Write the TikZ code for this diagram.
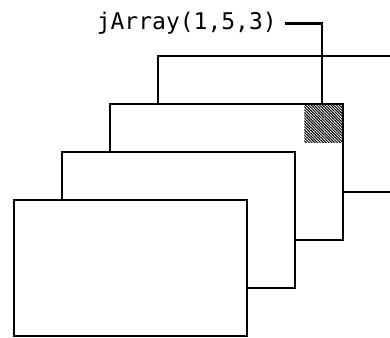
\documentclass[tikz,border=0pt]{standalone}
\usepackage{fontspec}
\setmonofont{DejaVu Sans Mono}
\usetikzlibrary{patterns.meta}
\tikzset{
  page/.style={draw=black, fill=white, line width=2pt, inner sep=0pt,
    minimum width=233pt, minimum height=136pt},
  cellhatch/.style={inner sep=0pt, minimum width=38pt, minimum height=37.5pt,
    pattern={Lines[angle=-45,distance=2pt,line width=1pt]}},
  leader/.style={draw=black, line width=2.8pt},
  lbl/.style={inner sep=0pt, font=\ttfamily\fontsize{23}{28}\selectfont}
}
\begin{document}
\begin{tikzpicture}[x=1pt,y=-1pt]
\useasboundingbox (0,0) rectangle (390,337);
\clip (0,0) rectangle (390,337);
\node[page] (p4) at (274.5,124) {};
\node[page] (p3) at (226.5,172) {};
\node[cellhatch, anchor=north east] (cell) at ([xshift=-1.2pt,yshift=-1.2pt]p3.north east) {};
\node[page] (p2) at (178.5,220) {};
\node[page] (p1) at (130.5,268) {};
\node[lbl, anchor=east] (label) at (277,23.5) {jArray(1,5,3)};
\coordinate (tip) at ([xshift=-22pt]p3.north east);
\draw[leader] ([xshift=8pt]label.east) -| (tip);
\end{tikzpicture}
\end{document}
